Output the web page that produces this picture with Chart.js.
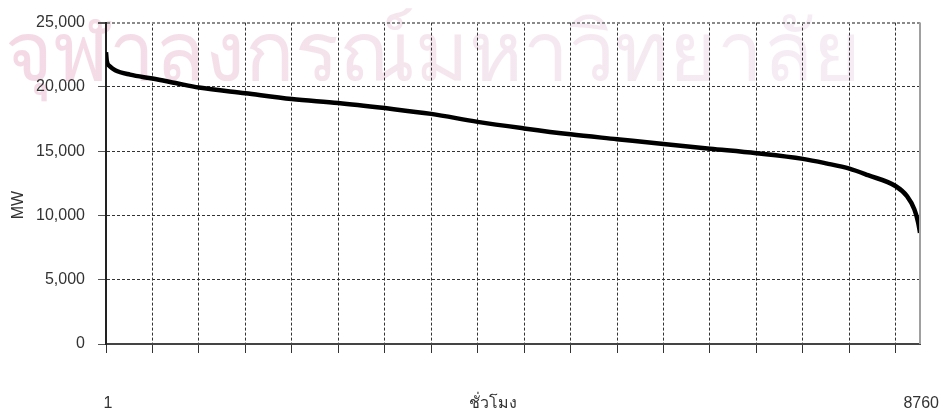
<!DOCTYPE html>
<html lang="th">
  <head>
    <meta charset="UTF-8" />
    <title>Load duration curve</title>
    <script src="https://cdn.jsdelivr.net/npm/chart.js"></script>
    <style>
      body {
        margin: 0;
        background: #fff;
      }
      #wrap {
        width: 943px;
        height: 415px;
      }
    </style>
  </head>
  <body>
    <div id="wrap">
      <canvas id="ldc" width="943" height="415"></canvas>
    </div>

    <script>
      // ชั่วโมง (เรียงจากโหลดสูงสุดไปต่ำสุด) และค่าโหลด MW ที่อ่านจากกราฟ
      const hours = [
        1, 10, 43, 100, 260, 500, 750, 1000, 1500, 2000, 2500, 3000, 3500,
        4000, 4500, 5000, 5500, 6000, 6500, 7000, 7500, 7750, 8000, 8200,
        8500, 8620, 8700, 8740, 8760,
      ];
      const loadMW = [
        22700, 22000, 21600, 21300, 20950, 20650, 20300, 19950, 19500, 19050,
        18750, 18350, 17900, 17280, 16770, 16310, 15930, 15550, 15190, 14840,
        14400, 14050, 13640, 13130, 12270, 11500, 10460, 9450, 8650,
      ];
      const xTickStep = 500;
      const yTicks = [0, 5000, 10000, 15000, 20000, 25000];
      const watermark = "จุฬาลงกรณ์มหาวิทยาลัย";
      const xTitle = "ชั่วโมง";
      const yTitle = "MW";
      const xFirst = "1";
      const xLast = "8760";

      const FONT = "'Liberation Sans', Arial, sans-serif";

      // ลายน้ำสีชมพูอ่อนด้านหลัง
      const watermarkPlugin = {
        id: "watermark",
        beforeDraw(chart) {
          const ctx = chart.ctx;
          ctx.save();
          ctx.fillStyle = "#fff";
          ctx.fillRect(0, 0, chart.width, chart.height);
          let size = 90;
          ctx.font = size + "px " + FONT;
          const w = ctx.measureText(watermark).width;
          size = size * (855 / w);
          ctx.font = size + "px " + FONT;
          const g = ctx.createLinearGradient(5, 0, 860, 0);
          g.addColorStop(0, "#f4d9e5");
          g.addColorStop(0.5, "#f5e6ee");
          g.addColorStop(1, "#f6edf4");
          ctx.fillStyle = g;
          ctx.textBaseline = "alphabetic";
          ctx.fillText(watermark, 5, 80);
          ctx.restore();
        },
      };

      // เส้นขอบขวา + ข้อความแกน
      const labelsPlugin = {
        id: "labels",
        afterDraw(chart) {
          const ctx = chart.ctx;
          const a = chart.chartArea;
          ctx.save();
          ctx.strokeStyle = "#a0a0a0";
          ctx.lineWidth = 2;
          ctx.beginPath();
          ctx.moveTo(a.right, a.top);
          ctx.lineTo(a.right, a.bottom);
          ctx.stroke();

          ctx.fillStyle = "#333";
          ctx.font = "16px " + FONT;
          ctx.textBaseline = "middle";
          ctx.textAlign = "center";
          ctx.fillText(xFirst, 108, 404);
          ctx.fillText(xTitle, 493, 404);
          ctx.textAlign = "right";
          ctx.fillText(xLast, 939, 404);

          ctx.translate(19, 205);
          ctx.rotate(-Math.PI / 2);
          ctx.textAlign = "center";
          ctx.fillText(yTitle, 0, 0);
          ctx.restore();
        },
      };

      const points = hours.map((h, i) => ({ x: h, y: loadMW[i] }));

      new Chart(document.getElementById("ldc"), {
        type: "line",
        data: {
          datasets: [
            {
              data: points,
              borderColor: "#000",
              borderWidth: 4.5,
              pointRadius: 0,
              cubicInterpolationMode: "monotone",
              fill: false,
            },
          ],
        },
        options: {
          responsive: false,
          animation: false,
          layout: { padding: { top: 16, right: 23, left: 0, bottom: 0 } },
          plugins: {
            legend: { display: false },
            tooltip: { enabled: false },
          },
          scales: {
            x: {
              type: "linear",
              min: 1,
              max: 8760,
              afterBuildTicks(scale) {
                const t = [];
                for (let v = 0; v <= 8760; v += xTickStep) t.push({ value: v });
                t[0] = { value: 1 };
                scale.ticks = t;
              },
              afterFit(scale) {
                scale.height = 71;
              },
              ticks: { display: false },
              grid: {
                color: (c) => (c.index === 0 ? "rgba(0,0,0,0)" : "#333"),
                lineWidth: 1,
                tickLength: 9,
                tickColor: "#333",
              },
              border: { display: true, color: "#444", width: 2, dash: [3, 2] },
            },
            y: {
              min: 0,
              max: 25000,
              afterBuildTicks(scale) {
                scale.ticks = yTicks.map((v) => ({ value: v }));
              },
              afterFit(scale) {
                scale.width = 106;
              },
              ticks: {
                padding: 13,
                color: "#333",
                font: { family: FONT, size: 16 },
                callback: (v) => v.toLocaleString("en-US"),
              },
              grid: {
                color: (c) =>
                  c.tick && c.tick.value === 25000 ? "#8a8a8a" : "#333",
                lineWidth: (c) => (c.tick && c.tick.value === 25000 ? 2 : 1),
                tickLength: 8,
                tickColor: "#555",
              },
              border: { display: true, color: "#222", width: 2, dash: [3, 2] },
            },
          },
        },
        plugins: [watermarkPlugin, labelsPlugin],
      });
    </script>
  </body>
</html>
